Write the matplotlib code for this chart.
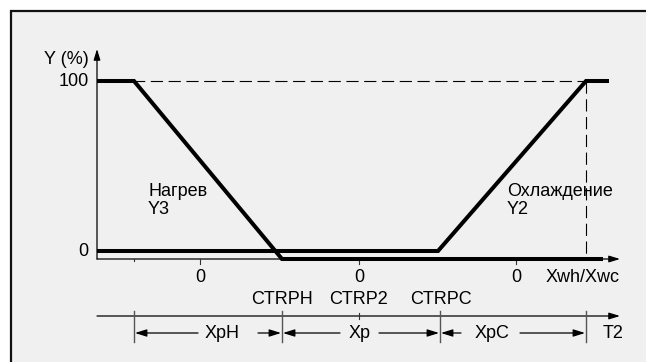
import matplotlib
matplotlib.use("Agg")
import matplotlib.pyplot as plt
from matplotlib.patches import Rectangle

plt.rcParams['font.family'] = ['Liberation Sans', 'DejaVu Sans']

# ---- diagram data (diagram units, y grows downward) ----
# key x positions
x_origin = 97
x_ctrph = 282
x_ctrp2 = 359
x_ctrpc = 440
x_xph_start = 134
x_xpc_end = 586
x_axis_end = 620
# y levels
y_full = 81      # Y = 100 %
y_zero_y2 = 251  # Y2 = 0
y_axis = 259     # x axis / Y3 = 0
y_t2 = 316
y_dim = 333

# heating Y3 curve
heat_x = [97, 134, 282, 603]
heat_y = [81, 81, 259, 259]
# cooling Y2 curve
cool_x = [97, 438, 586, 609]
cool_y = [251, 251, 81, 81]

zero_tick_x = [200, 359, 516]
zero_tick_labels = ["0", "0", "0"]
ctr_labels = ["CTRPH", "CTRP2", "CTRPC"]
ctr_x = [282, 359, 441]
bar_x = [134, 282, 440, 586]
dim_labels = ["XpH", "Xp", "XpC"]
dim_text_x = [222, 360, 492]
dim_left_end = [198, 340, 461]
dim_right_start = [258, 379, 520]

fig = plt.figure(figsize=(6.46, 3.62), dpi=100)
fig.patch.set_facecolor('white')
ax = fig.add_axes([0, 0, 1, 1])
ax.set_xlim(0, 646)
ax.set_ylim(362, 0)
ax.axis('off')

# frame
ax.add_patch(Rectangle((11, 11), 700, 400, facecolor='#f0f0f0',
                       edgecolor='#111111', lw=1.6, zorder=0))

fs = 13
axis_col = '#333333'

# dashed guides
ax.plot([x_origin, x_xpc_end], [y_full, y_full], color='black', lw=0.8,
        dashes=(11, 5), zorder=1)
ax.plot([x_xpc_end, x_xpc_end], [y_full, y_axis], color='black', lw=0.8,
        dashes=(11, 5), zorder=1)

arrow_axis = dict(arrowstyle='-|>,head_length=0.65,head_width=0.2',
                  mutation_scale=10, lw=0.9, color='black',
                  shrinkA=0, shrinkB=0)
# y axis
ax.annotate("", xy=(x_origin, 49), xytext=(x_origin, y_axis),
            arrowprops=arrow_axis, zorder=2)
# x axis
ax.annotate("", xy=(x_axis_end, y_axis), xytext=(x_origin, y_axis),
            arrowprops=arrow_axis, zorder=2)
# T2 axis
ax.annotate("", xy=(x_axis_end, y_t2), xytext=(x_origin, y_t2),
            arrowprops=arrow_axis, zorder=2)

# curves
ax.plot(heat_x, heat_y, color='black', lw=2.9, solid_joinstyle='miter',
        solid_capstyle='butt', zorder=3)
ax.plot(cool_x, cool_y, color='black', lw=2.9, solid_joinstyle='miter',
        solid_capstyle='butt', zorder=3)

# ticks on x axis
for xt in zero_tick_x:
    ax.plot([xt, xt], [y_axis, y_axis + 5], color=axis_col, lw=0.8, zorder=2)
ax.plot([x_xph_start, x_xph_start], [y_axis, y_axis + 2], color=axis_col,
        lw=0.8, zorder=2)
for xt, lab in zip(zero_tick_x, zero_tick_labels):
    ax.text(xt, 277, lab, ha='center', va='center', fontsize=fs)
ax.text(583, 277, "Xwh/Xwc", ha='center', va='center', fontsize=fs)

# CTR labels
for xt, lab in zip(ctr_x, ctr_labels):
    ax.text(xt, 299, lab, ha='center', va='center', fontsize=fs)

# tick at CTRP2 on T2 axis
ax.plot([x_ctrp2, x_ctrp2], [y_t2 - 3, y_t2 + 3], color=axis_col, lw=0.8)

# dimension bars
for xb in bar_x:
    ax.plot([xb, xb], [311, 342], color='#555555', lw=1.0, zorder=2)

arrow_dim = dict(arrowstyle='-|>,head_length=0.7,head_width=0.22',
                 mutation_scale=10, lw=0.9, color='black',
                 shrinkA=0, shrinkB=0)
for i, lab in enumerate(dim_labels):
    left = bar_x[i]
    right = bar_x[i + 1]
    ax.annotate("", xy=(left + 1, y_dim), xytext=(dim_left_end[i], y_dim),
                arrowprops=arrow_dim)
    ax.annotate("", xy=(right - 1, y_dim), xytext=(dim_right_start[i], y_dim),
                arrowprops=arrow_dim)
    ax.text(dim_text_x[i], y_dim, lab, ha='center', va='center', fontsize=fs)
ax.text(613, y_dim, "T2", ha='center', va='center', fontsize=fs)

# y axis labels
ax.text(89, 59, "Y (%)", ha='right', va='center', fontsize=fs)
ax.text(89, y_full, "100", ha='right', va='center', fontsize=fs)
ax.text(88, y_zero_y2, "0", ha='right', va='center', fontsize=fs)

# curve labels
ax.text(148, 191, "Нагрев", ha='left', va='center', fontsize=fs)
ax.text(148, 210, "Y3", ha='left', va='center', fontsize=fs)
ax.text(507, 191, "Охлаждение", ha='left', va='center', fontsize=fs)
ax.text(507, 210, "Y2", ha='left', va='center', fontsize=fs)

fig.savefig("out.png", dpi=100, facecolor='white')
